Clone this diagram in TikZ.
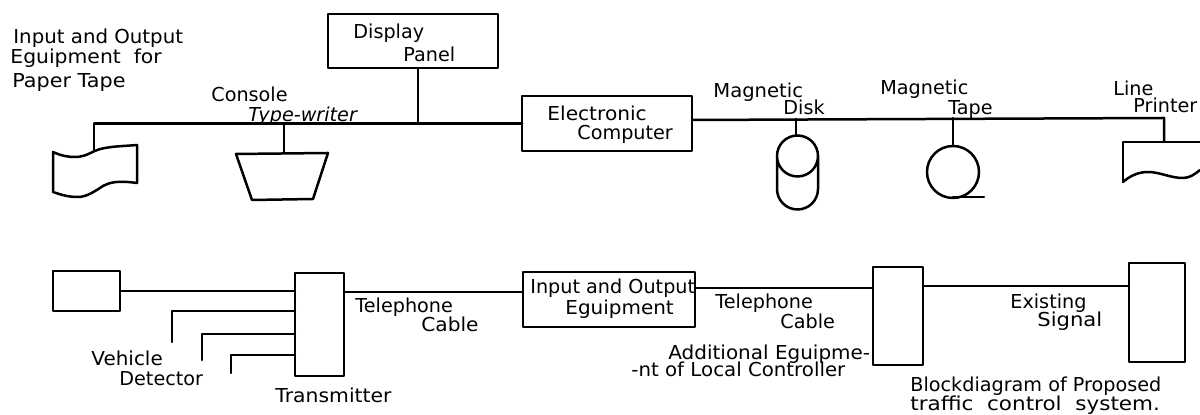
\documentclass[tikz,border=0pt]{standalone}
\usepackage{fontspec}
\setmainfont{DejaVu Sans}
\newcommand{\sx}[2]{\scalebox{#1}[1]{#2}}
\begin{document}
\begin{tikzpicture}[x=0.5pt,y=-0.5pt,
  line cap=round,line join=round,
  conn/.style={line width=1.25pt},
  shp/.style={line width=1.25pt},
  box/.style={draw,line width=1.4pt,inner sep=0pt,outer sep=0pt},
  lbl/.style={anchor=base west,inner sep=0pt,font=\fontsize{9.6}{10}\selectfont},
  itl/.style={lbl,font=\fontsize{9.6}{10}\selectfont\itshape}]
\useasboundingbox (0,0) rectangle (1200,415);
% boxes
\node[box,minimum width=85pt,minimum height=27pt] (disp) at (413,41) {};
\node[box,minimum width=85pt,minimum height=27.5pt] (elec) at (607,123.5) {};
\node[box,minimum width=33.5pt,minimum height=20pt] (b1) at (86.5,291) {};
\node[box,minimum width=24.5pt,minimum height=51.5pt] (trans) at (319.5,324.5) {};
\node[box,minimum width=86pt,minimum height=27.5pt] (io) at (609,299.5) {};
\node[box,minimum width=25pt,minimum height=49pt] (add) at (898,316) {};
\node[box,minimum width=28pt,minimum height=49.5pt] (sig) at (1157,312.5) {};
% junctions and end points
\coordinate (tt) at (94,150);
\coordinate (dj) at (418,123.5);
\coordinate (cj) at (284,123.5);
\coordinate (ct) at (284,153);
\coordinate (mj) at (796,119);
\coordinate (mt) at (796,135);
\coordinate (tj) at (953,118);
\coordinate (tc) at (953,146);
\coordinate (pj) at (1164,118);
\coordinate (pt) at (1164,142);
\coordinate (d1) at (172,342);
\coordinate (d2) at (202,360);
\coordinate (d3) at (231,373);
\coordinate (t1) at (295,311);
\coordinate (t2) at (295,334);
\coordinate (t3) at (295,355);
\coordinate (c1) at (0,292);
\coordinate (c2) at (0,288);
\coordinate (c3) at (0,286);
% connectors
\draw[conn] (tt) |- (elec.west);
\draw[conn] (disp.south -| dj) -- (dj);
\draw[conn] (cj) -- (ct);
\draw[conn] ([yshift=1.75pt]elec.east) -- (pj) -- (pt);
\draw[conn] (mj) -- (mt);
\draw[conn] (tj) -- (tc);
\draw[conn] (b1.east) -- (b1.east -| trans.west);
\draw[conn] (d1) |- (t1);
\draw[conn] (d2) |- (t2);
\draw[conn] (d3) |- (t3);
\draw[conn] (trans.east |- c1) -- (io.west |- c1);
\draw[conn] (io.east |- c2) -- (add.west |- c2);
\draw[conn] (add.east |- c3) -- (sig.west |- c3);
% paper tape
\draw[shp] (53,152) .. controls (62,156) and (68,157) .. (75,157) .. controls (88,157) and (92,150) .. (105,148) .. controls (116,146) and (126,146) .. (137,145) -- (137,183) .. controls (122,181) and (112,181) .. (103,186) .. controls (94,192) and (86,197) .. (78,197) .. controls (68,197) and (62,195) .. (53,192) -- cycle;
% console
\draw[shp] (236,154) -- (328,153) -- (313,199) -- (252,200) -- cycle;
% disk
\draw[shp] (777,156) arc[start angle=180,end angle=0,radius=20.5] -- (818,189) arc[start angle=0,end angle=180,radius=20.5] -- cycle;
\draw[shp] (777,156) arc[start angle=180,end angle=360,radius=20.5];
% tape reel
\draw[shp] (953,172) circle[radius=26];
\draw[shp] (953,197) -- (984,197);
% printer
\draw[shp] (1123,182) -- (1123,142) -- (1200,142);
\draw[shp] (1123,182) .. controls (1130,176) and (1138,172) .. (1148,172) .. controls (1160,172) and (1170,178) .. (1183,178) .. controls (1190,178) and (1195,174) .. (1200,170);
% labels
\node[lbl] (l1) at (13,44) {\sx{1.03}{Input and Output}};
\node[lbl] (l2) at (10,64) {\sx{1.06}{Eguipment\ \ for}};
\node[lbl] (l3) at (12,88) {\sx{1.08}{Paper Tape}};
\node[lbl] (l4) at (211,102) {Console};
\node[itl] (l5) at (248,122) {Type-writer};
\node[lbl] (l6) at (353,39) {Display};
\node[lbl] (l7) at (403,62) {Panel};
\node[lbl] (l8) at (547,121) {\sx{1.05}{Electronic}};
\node[lbl] (l9) at (577,140) {Computer};
\node[lbl] (l10) at (713,98) {\sx{1.02}{Magnetic}};
\node[lbl] (l11) at (783,115) {Disk};
\node[lbl] (l12) at (880,95) {Magnetic};
\node[lbl] (l13) at (948,115) {Tape};
\node[lbl] (l14) at (1113,96) {Line};
\node[lbl] (l15) at (1133,113) {Printer};
\node[lbl] (l16) at (355,313) {Telephone};
\node[lbl] (l17) at (421,332) {\sx{1.05}{Cable}};
\node[lbl] (l18) at (530,294) {Input and Output};
\node[lbl] (l19) at (565,315) {\sx{1.04}{Eguipment}};
\node[lbl] (l20) at (715,309) {Telephone};
\node[lbl] (l21) at (780,329) {Cable};
\node[lbl] (l22) at (668,360) {\sx{1.04}{Additional Eguipme-}};
\node[lbl] (l23) at (631,377) {\sx{1.03}{-nt of Local Controller}};
\node[lbl] (l24) at (1010,309) {Existing};
\node[lbl] (l25) at (1037,327) {\sx{1.1}{Signal}};
\node[lbl] (l26) at (91,366) {\sx{1.04}{Vehicle}};
\node[lbl] (l27) at (119,386) {Detector};
\node[lbl] (l28) at (275,403) {\sx{1.06}{Transmitter}};
\node[lbl] (l29) at (910,392) {Blockdiagram of Proposed};
\node[lbl] (l30) at (910,411) {\sx{1.12}{traffic\ \ control\ \ system.}};
\end{tikzpicture}
\end{document}
